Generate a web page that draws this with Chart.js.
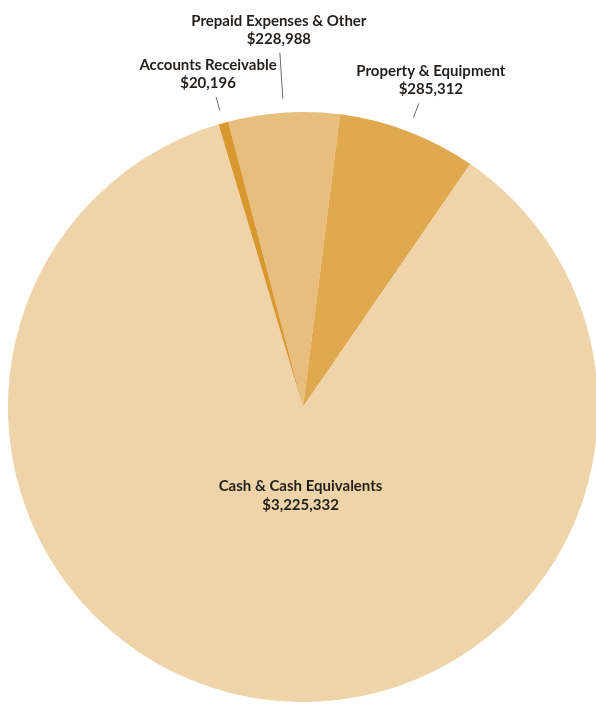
<!DOCTYPE html>
<html>
<head>
<meta charset="utf-8">
<script src="https://cdn.jsdelivr.net/npm/chart.js@4.4.1/dist/chart.umd.min.js"></script>
<style>
  html, body { margin: 0; padding: 0; background: #fff; overflow: hidden; }
  #wrap { position: absolute; left: 0; top: 0; width: 610px; height: 704px; }
</style>
</head>
<body>
<div id="wrap"><canvas id="assetsChart"></canvas></div>
<script>
// slice order goes clockwise from the Prepaid wedge near the top
const categories = ["Prepaid Expenses & Other", "Property & Equipment", "Cash & Cash Equivalents", "Accounts Receivable"];
const values = [228988, 285312, 3225332, 20196];
const valueLabels = ["$228,988", "$285,312", "$3,225,332", "$20,196"];
const colors = ["#E7BE7D", "#E1A94F", "#EED4A8", "#D9982F"];

// label placement per slice: leader line radii (beyond the rim) and text shift
const labelSpots = [
  { line: [14, 60], dx: -1 },
  { line: [15, 30], dx: 12 },
  { inside: 80, dx: 10 },
  { line: [13, 27], dx: -8 }
];

const fmtFont = "bold 15px Lato, 'Open Sans', sans-serif";

const pieLabels = {
  id: "pieLabels",
  afterDatasetsDraw(chart) {
    const ctx = chart.ctx;
    const arcs = chart.getDatasetMeta(0).data;
    ctx.save();
    ctx.font = fmtFont;
    ctx.fillStyle = "#231f1c";
    ctx.textAlign = "center";
    ctx.textBaseline = "middle";
    arcs.forEach((arc, i) => {
      const spot = labelSpots[i];
      const mid = (arc.startAngle + arc.endAngle) / 2;
      const cx = arc.x, cy = arc.y, r = arc.outerRadius;
      if (spot.inside) {
        const tx = cx + Math.cos(mid) * spot.inside + spot.dx;
        const ty = cy + Math.sin(mid) * spot.inside;
        ctx.fillText(categories[i], tx, ty);
        ctx.fillText(valueLabels[i], tx, ty + 19);
        return;
      }
      const x1 = cx + Math.cos(mid) * (r + spot.line[0]);
      const y1 = cy + Math.sin(mid) * (r + spot.line[0]);
      const x2 = cx + Math.cos(mid) * (r + spot.line[1]);
      const y2 = cy + Math.sin(mid) * (r + spot.line[1]);
      ctx.strokeStyle = "#6b6b6b";
      ctx.lineWidth = 1;
      ctx.beginPath();
      ctx.moveTo(x1, y1);
      ctx.lineTo(x2, y2);
      ctx.stroke();
      ctx.fillText(valueLabels[i], x2 + spot.dx, y2 - 14);
      ctx.fillText(categories[i], x2 + spot.dx, y2 - 32);
    });
    ctx.restore();
  }
};

new Chart(document.getElementById("assetsChart"), {
  type: "pie",
  data: {
    labels: categories,
    datasets: [{
      data: values,
      backgroundColor: colors,
      borderWidth: 0
    }]
  },
  options: {
    responsive: true,
    maintainAspectRatio: false,
    animation: false,
    rotation: -14.7,
    layout: { padding: { left: 8, right: 12, top: 112, bottom: 2 } },
    plugins: {
      legend: { display: false },
      tooltip: { enabled: false }
    }
  },
  plugins: [pieLabels]
});
</script>
</body>
</html>
